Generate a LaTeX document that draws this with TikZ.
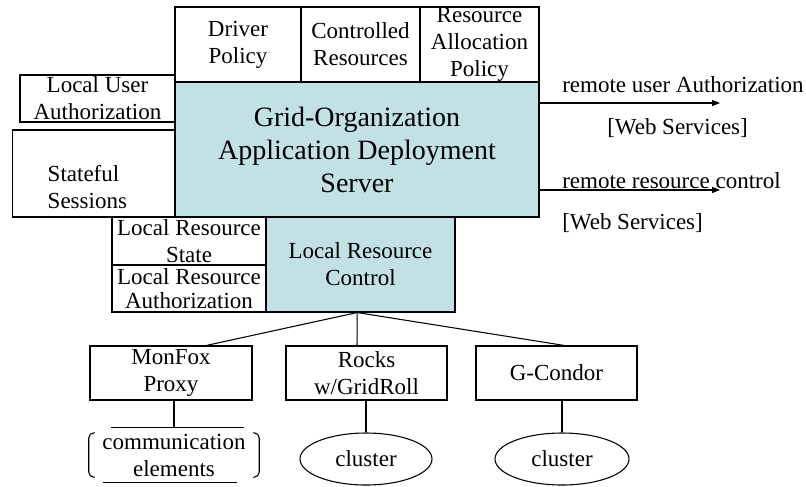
\documentclass[tikz,border=0pt]{standalone}
\usepackage{fontspec}
\setmainfont{Liberation Serif}
\usetikzlibrary{shapes.geometric, arrows.meta}
\definecolor{srvcyan}{RGB}{194,225,229}
\newcommand{\lblsize}{\fontsize{17.25}{20.25}\selectfont}
\newcommand{\tightsize}{\fontsize{17.25}{17.5}\selectfont}
\newcommand{\titlesize}{\fontsize{21}{24.75}\selectfont}

\begin{document}
\begin{tikzpicture}[x=0.75pt, y=-0.75pt,
    box/.style={draw, line width=0.8pt, fill=white, align=center, inner sep=0pt, font=\lblsize},
    srv/.style={box, fill=srvcyan},
    clusternode/.style={ellipse, draw, line width=0.8pt, minimum width=99pt, minimum height=39pt, inner sep=0pt, font=\lblsize},
    txt/.style={anchor=west, inner sep=0pt, font=\lblsize},
    wire/.style={line width=0.8pt},
    remote/.style={line width=0.8pt, -{Triangle[length=6pt, width=4.5pt]}}]
    \useasboundingbox (0,0) rectangle (806,486);

    % サーバ
    \node[srv, font=\titlesize, minimum width=273pt, minimum height=101.25pt] (server) at (357,149.5) {Grid-Organization\\Application Deployment\\Server};

    % 上の箱
    \node[box, minimum width=94.5pt, minimum height=56.25pt] (driver) at (238,44.5) {Driver\\Policy};
    \node[box, minimum width=89.25pt, minimum height=56.25pt] (ctrl) at (360.5,44.5) {Controlled\\Resources};
    \node[box, minimum width=89.25pt, minimum height=56.25pt] (alloc) at (479.5,44.5) {Resource\\Allocation\\Policy};

    % 左の箱
    \node[box, minimum width=116.25pt, minimum height=35.25pt] (luser) at (97.5,98.5) {Local User\\Authorization};
    \node[box, minimum width=121.875pt, minimum height=65.25pt] (stateful) at (93.75,173.5) {};
    \node[txt, align=left] (statefultext) at ([shift={(35.5,14)}]stateful.west) {Stateful\\Sessions};

    % ローカル資源
    \node[box, minimum width=115.5pt, minimum height=36pt] (lrstate) at (189,241) {Local Resource\\State};
    \node[box, font=\tightsize, minimum width=115.5pt, minimum height=35.25pt] (lrauth) at (189,288.5) {Local Resource\\Authorization};
    \node[srv, minimum width=141.75pt, minimum height=71.25pt] (lrctrl) at (360.5,264.5) {Local Resource\\Control};

    % 下の箱
    \node[box, minimum width=121.5pt, minimum height=40.5pt] (monfox) at (171,373) {MonFox\\Proxy};
    \node[box, minimum width=120.75pt, minimum height=40.5pt] (rocks) at (366.5,373) {Rocks\\w/GridRoll};
    \node[box, minimum width=120.75pt, minimum height=40.5pt] (gcondor) at (556.5,373) {G-Condor};

    \node[inner sep=0pt, align=center, font=\lblsize, minimum width=127.5pt, minimum height=40.5pt] (comm) at (174,455) {communication\\elements};
    \draw[wire, rounded corners=4pt] ([shift={(6,5)}]comm.north west) -- ([shift={(0,5)}]comm.north west) -- ([shift={(0,-5)}]comm.south west) -- ([shift={(6,-5)}]comm.south west);
    \draw[wire, rounded corners=4pt] ([shift={(-6,5)}]comm.north east) -- ([shift={(0,5)}]comm.north east) -- ([shift={(0,-5)}]comm.south east) -- ([shift={(-6,-5)}]comm.south east);
    \draw[wire] ([shift={(22,0)}]comm.north west) -- ([shift={(-15,0)}]comm.north east);
    \draw[wire] ([shift={(14,0)}]comm.south west) -- ([shift={(-22,0)}]comm.south east);
    \node[clusternode] (cl1) at (366,459) {cluster};
    \node[clusternode, minimum width=100.5pt] (cl2) at (562,459) {cluster};

    % エッジを引く
    \draw[wire] (lrctrl.-94) -- (monfox.38);
    \draw[wire] (lrctrl.-94) -- (rocks.109);
    \draw[wire] (lrctrl.-94) -- (gcondor.74);
    \draw[wire] (comm.north |- monfox.south) -- (comm.north);
    \draw[wire] (cl1.north |- rocks.south) -- (cl1.north);
    \draw[wire] (cl2.north |- gcondor.south) -- (cl2.north);

    % 右の矢印
    \coordinate (userend) at (720,103);
    \coordinate (ctrlend) at (720,190);
    \draw[remote] (server.east |- userend) -- (userend);
    \draw[remote] (server.east |- ctrlend) -- (ctrlend);
    \node[txt] (usertext) at (562,85) {remote user Authorization};
    \node[txt] (userws) at (607,128) {[Web Services]};
    \node[txt] (ctrltext) at (562,181) {remote resource control};
    \node[txt] (ctrlws) at (562,223) {[Web Services]};
\end{tikzpicture}
\end{document}
